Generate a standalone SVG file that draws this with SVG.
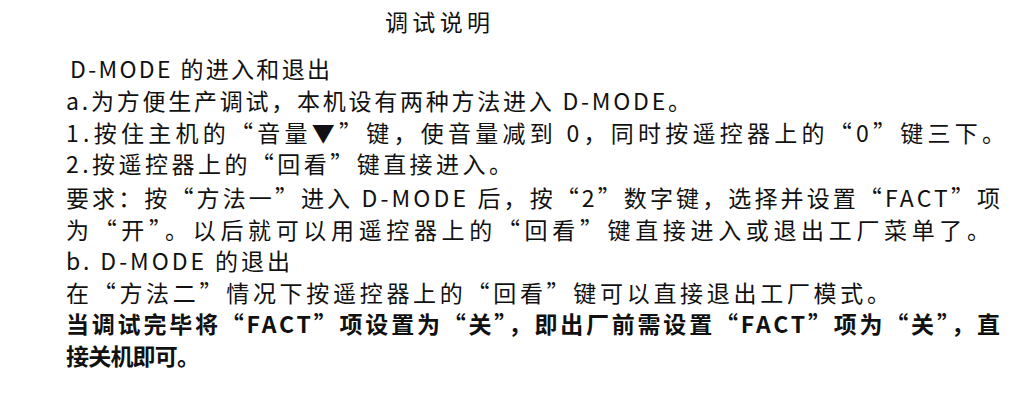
<svg xmlns="http://www.w3.org/2000/svg" width="1018" height="410" viewBox="0 0 1018 410">
<style>
text{font-family:"Noto Sans CJK SC","Liberation Serif",serif;font-size:23px;fill:#111}
.b{font-weight:bold}
</style>
<rect width="1018" height="410" fill="#fff"/>
<g id="text">
<text x="385" y="31" textLength="105">调试说明</text>
<text x="70" y="78" textLength="260">D-MODE 的进入和退出</text>
<text x="66" y="110" textLength="625">a.为方便生产调试，本机设有两种方法进入 D-MODE。</text>
<text x="66" y="142" textLength="939">1.按住主机的“音量▼”键，使音量减到 0，同时按遥控器上的“0”键三下。</text>
<text x="66" y="173" textLength="446">2.按遥控器上的“回看”键直接进入。</text>
<text x="66" y="207" textLength="934">要求：按“方法一”进入 D-MODE 后，按“2”数字键，选择并设置“FACT”项</text>
<text x="66" y="239" textLength="924">为“开”。以后就可以用遥控器上的“回看”键直接进入或退出工厂菜单了。</text>
<text x="66" y="270" textLength="224">b. D-MODE 的退出</text>
<text x="66" y="302" textLength="824">在“方法二”情况下按遥控器上的“回看”键可以直接退出工厂模式。</text>
<text class="b" x="66" y="333" textLength="934">当调试完毕将“FACT”项设置为“关”，即出厂前需设置“FACT”项为“关”，直</text>
<text class="b" x="66" y="365" textLength="134">接关机即可。</text>
</g>
</svg>
